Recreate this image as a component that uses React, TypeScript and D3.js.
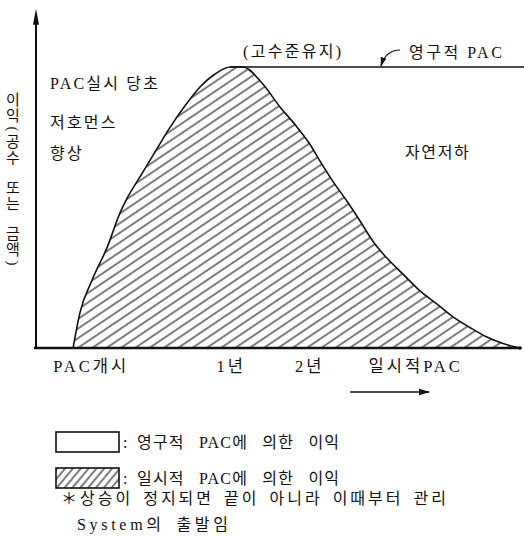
import React from "react";
import * as d3 from "d3";

// curve: [time (arbitrary units 0-100), benefit (peak = 100)]
const curveX = [7.6, 9.0, 11.5, 14.6, 17.2, 18.7, 21.3, 24.4, 27.5, 30.5, 33.6, 36.7, 39.8, 42.4, 46.3, 50.0, 53.5, 56.1, 58.2, 60.8, 63.7, 66.4, 69.0, 71.9, 75.2, 78.7, 82.2, 85.5, 88.9, 92.4, 95.7, 99.2];
const curveY = [0, 12.5, 24.2, 35.9, 48.0, 53.4, 60.9, 69.8, 78.6, 86.1, 92.9, 97.5, 100, 100, 94.3, 85.8, 78.6, 72.6, 66.5, 59.4, 52.3, 45.2, 38.1, 32.0, 26.3, 20.3, 15.6, 11.0, 7.3, 3.9, 1.6, 0];
const permanentLevel = 100;
const permanentStart = 39.8;
const axisMaxY = 120;
const axisEndX = 99.2;

const tickLabels = ["PAC개시", "1년", "2년", "일시적PAC"];
const tickPos = [11.3, 40.0, 56.1, 77.8];

const yLabel = ["이", "익", "(", "공", "수", " ", "또", "는", " ", "금", "액", ")"];
const leftNote = ["PAC실시 당초", "저호먼스", "향상"];
const rightNote = "자연저하";
const topNote = "(고수준유지)";
const permNote = "영구적 PAC";
const legendLabels = ["영구적 PAC에 의한 이익", "일시적 PAC에 의한 이익"];
const footNotes = ["＊상승이 정지되면 끝이 아니라 이때부터 관리", "System의 출발임"];

const FONT = "'Liberation Serif', 'Noto Sans CJK KR', serif";

export default function App() {
  const W = 524, H = 540;
  const x = d3.scaleLinear().domain([0, 100]).range([36, 524]);
  const y = d3.scaleLinear().domain([0, 100]).range([348, 67]);
  const pts: [number, number][] = curveX.map((v, i) => [v, curveY[i]]);
  const area = d3.area<[number, number]>().x(d => x(d[0])).y0(y(0)).y1(d => y(d[1])).curve(d3.curveMonotoneX);
  const line = d3.line<[number, number]>().x(d => x(d[0])).y(d => y(d[1])).curve(d3.curveMonotoneX);

  // y label char positions (half-advances)
  const half = (c: string) => (c === "(" || c === ")" ? 5 : c === " " ? 7 : 8);
  let cy = 100;
  const yLabelPos: number[] = [];
  yLabel.forEach((c, i) => {
    if (i > 0) cy += half(yLabel[i - 1]) + half(c);
    yLabelPos.push(cy);
  });

  return (
    <svg width={W} height={H} style={{ position: "absolute", left: 0, top: 0, background: "#fff" }} fontFamily={FONT} fill="#111">
      <defs>
        <pattern id="hatch" width="8" height="8" patternUnits="userSpaceOnUse" patternTransform="rotate(-34)">
          <line x1="0" y1="4" x2="8" y2="4" stroke="#111" strokeWidth="1.1" />
        </pattern>
        <pattern id="hatch2" width="6" height="6" patternUnits="userSpaceOnUse" patternTransform="rotate(-50)">
          <line x1="0" y1="3" x2="6" y2="3" stroke="#111" strokeWidth="1.1" />
        </pattern>
        <marker id="ah" viewBox="0 0 10 10" refX="9" refY="5" markerWidth="8" markerHeight="8" orient="auto">
          <path d="M0,2 L10,5 L0,8 Z" fill="#111" />
        </marker>
      </defs>

      {/* hatched area */}
      <path d={area(pts) || ""} fill="url(#hatch)" />
      <path d={line(pts) || ""} fill="none" stroke="#111" strokeWidth={1.6} />

      {/* permanent level */}
      <line x1={x(permanentStart)} x2={x(100)} y1={y(permanentLevel)} y2={y(permanentLevel)} stroke="#111" strokeWidth={1.6} />

      {/* axes */}
      <line x1={x(0)} x2={x(0)} y1={y(0) + 1} y2={y(axisMaxY) + 8} stroke="#111" strokeWidth={2} />
      <path d={`M${x(0)},${y(axisMaxY) - 2} L${x(0) - 3},${y(axisMaxY) + 14} L${x(0) + 3},${y(axisMaxY) + 14} Z`} fill="#111" />
      <line x1={x(0) - 2} x2={x(axisEndX)} y1={y(0)} y2={y(0)} stroke="#111" strokeWidth={2.4} />
      <circle cx={x(axisEndX)} cy={y(0)} r={1.8} fill="#111" />

      {/* y label */}
      {yLabel.map((c, i) =>
        c === " " ? null : c === "(" || c === ")" ? (
          <text key={i} x={13} y={yLabelPos[i]} fontSize={15} textAnchor="middle" dominantBaseline="central"
            transform={`rotate(90, 13, ${yLabelPos[i]})`}>{c}</text>
        ) : (
          <text key={i} x={13} y={yLabelPos[i]} fontSize={15} textAnchor="middle" dominantBaseline="central">{c}</text>
        )
      )}

      {/* notes */}
      {leftNote.map((t, i) => (
        <text key={i} x={50} y={[83, 122, 153][i]} fontSize={16} dominantBaseline="central" letterSpacing={2.2}>{t}</text>
      ))}
      <text x={405} y={152} fontSize={16} dominantBaseline="central" letterSpacing={1.6}>{rightNote}</text>
      <text x={243} y={51} fontSize={16} dominantBaseline="central" letterSpacing={2.3}>{topNote}</text>
      <text x={409} y={52} fontSize={16} dominantBaseline="central" letterSpacing={2.5}>{permNote}</text>
      <path d="M400,50 C390,50 384,56 381,66" fill="none" stroke="#111" strokeWidth={1.2} markerEnd="url(#ah)" />

      {/* x tick labels */}
      {tickLabels.map((t, i) => (
        <text key={i} x={x(tickPos[i])} y={366} fontSize={16.5} textAnchor="middle" dominantBaseline="central" letterSpacing={3}>{t}</text>
      ))}
      <line x1={350} x2={429} y1={392} y2={392} stroke="#111" strokeWidth={1.4} markerEnd="url(#ah)" />

      {/* legend */}
      <rect x={56} y={432} width={63} height={20} fill="#fff" stroke="#111" strokeWidth={1.6} />
      <text x={123} y={442} fontSize={16} dominantBaseline="central">:</text>
      <text x={137} y={442} fontSize={16} dominantBaseline="central" letterSpacing={1.2} wordSpacing={9}>{legendLabels[0]}</text>
      <rect x={56} y={468} width={63} height={20} fill="url(#hatch2)" stroke="#111" strokeWidth={1.6} />
      <text x={123} y={478} fontSize={16} dominantBaseline="central">:</text>
      <text x={137} y={478} fontSize={16} dominantBaseline="central" letterSpacing={1.2} wordSpacing={9}>{legendLabels[1]}</text>

      <text x={61} y={498} fontSize={16} dominantBaseline="central" letterSpacing={3} wordSpacing={3}>{footNotes[0]}</text>
      <text x={77} y={524} fontSize={16} dominantBaseline="central" letterSpacing={3.7} wordSpacing={4}>{footNotes[1]}</text>
    </svg>
  );
}
